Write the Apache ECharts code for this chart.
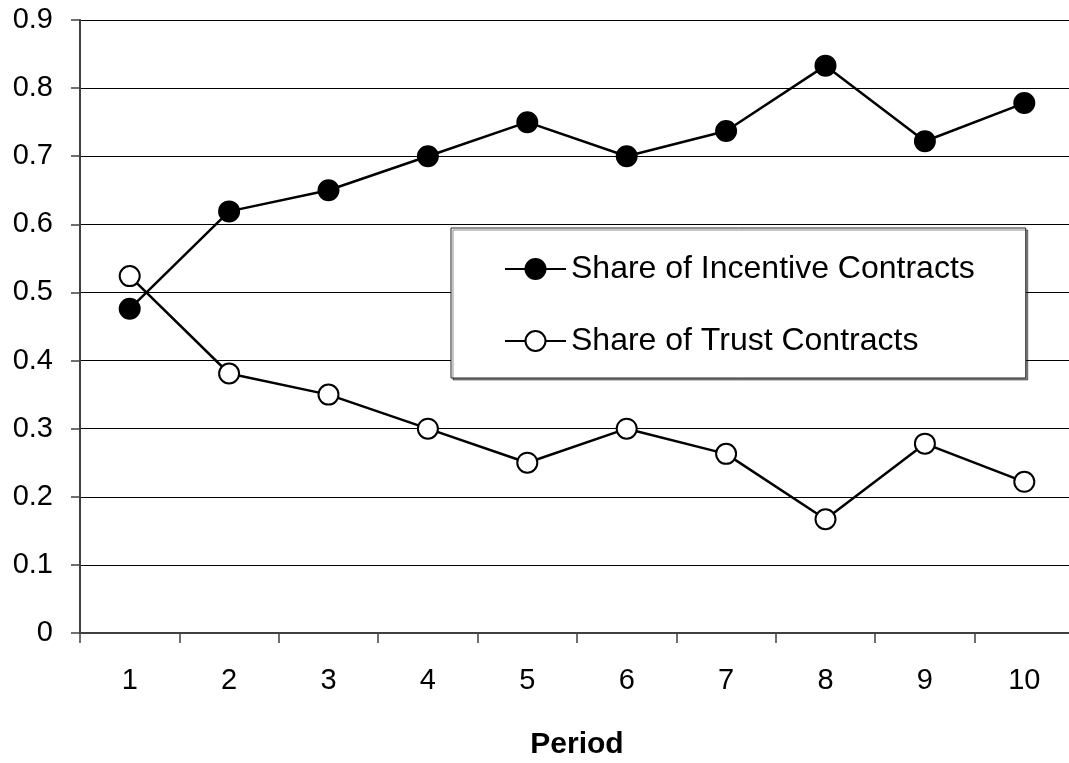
<!DOCTYPE html>
<html>
<head>
<meta charset="utf-8">
<script src="https://cdn.jsdelivr.net/npm/echarts@6/dist/echarts.min.js"></script>
<style>
html,body{margin:0;padding:0;background:#fff;}
#chart{width:1069px;height:763px;}
</style>
</head>
<body>
<div id="chart"></div>
<script>
const periods = ['1','2','3','4','5','6','7','8','9','10'];
const incentiveShare = [0.476, 0.619, 0.65, 0.70, 0.75, 0.70, 0.737, 0.833, 0.722, 0.778];
const trustShare = [0.524, 0.381, 0.35, 0.30, 0.25, 0.30, 0.263, 0.167, 0.278, 0.222];
const seriesNames = ['Share of Incentive Contracts', 'Share of Trust Contracts'];
const xAxisTitle = 'Period';

const FONT = '"Liberation Sans", Arial, sans-serif';
const chart = echarts.init(document.getElementById('chart'), null, {renderer: 'canvas'});
chart.setOption({
  animation: false,
  backgroundColor: '#fff',
  grid: {left: 80, right: -5, top: 20, bottom: 130, containLabel: false, outerBoundsMode: 'none'},
  legend: {
    orient: 'vertical',
    left: 451, top: 228,
    padding: [25, 51, 21, 53],
    itemGap: 40,
    itemWidth: 61, itemHeight: 25,
    backgroundColor: '#fff',
    borderColor: '#222', borderWidth: 1,
    shadowColor: 'rgba(0,0,0,0.45)', shadowOffsetX: 2, shadowOffsetY: 2, shadowBlur: 0,
    textStyle: {fontFamily: FONT, fontSize: 32, color: '#000', lineHeight: 32},
    data: seriesNames
  },
  xAxis: {
    type: 'category',
    data: periods,
    boundaryGap: true,
    name: xAxisTitle,
    nameLocation: 'middle',
    nameGap: 97,
    nameTextStyle: {fontFamily: FONT, fontSize: 30, fontWeight: 'bold', color: '#000'},
    axisLine: {lineStyle: {color: '#404040', width: 2}},
    axisTick: {show: true, length: 10, lineStyle: {color: '#404040', width: 1.5}},
    axisLabel: {fontFamily: FONT, fontSize: 29, color: '#000', margin: 33},
    splitLine: {show: false}
  },
  yAxis: {
    type: 'value',
    min: 0, max: 0.9, interval: 0.1,
    axisLine: {show: true, lineStyle: {color: '#404040', width: 2}},
    axisTick: {show: true, length: 9, lineStyle: {color: '#404040', width: 1.5}},
    axisLabel: {fontFamily: FONT, fontSize: 29, color: '#000', margin: 27,
      formatter: v => String(+v.toFixed(1))},
    splitLine: {show: true, lineStyle: {color: '#000', width: 1}}
  },
  series: [
    {
      name: seriesNames[0], type: 'line', data: incentiveShare,
      symbol: 'circle', symbolSize: 20,
      lineStyle: {color: '#000', width: 2.5},
      itemStyle: {color: '#000', borderColor: '#000', borderWidth: 2},
      emphasis: {disabled: true}
    },
    {
      name: seriesNames[1], type: 'line', data: trustShare,
      symbol: 'circle', symbolSize: 20,
      lineStyle: {color: '#000', width: 2.5},
      itemStyle: {color: '#fff', borderColor: '#000', borderWidth: 2},
      emphasis: {disabled: true}
    }
  ]
});
</script>
</body>
</html>
